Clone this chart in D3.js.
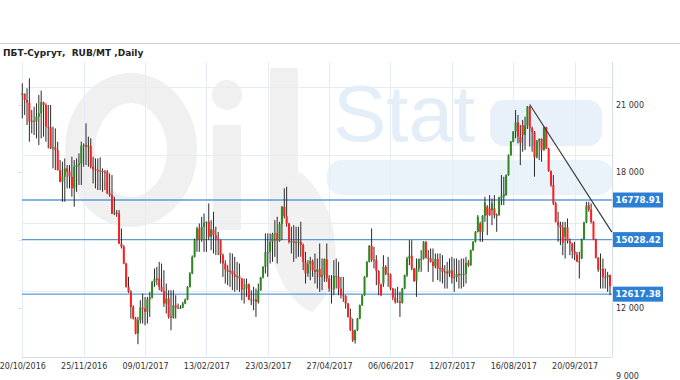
<!DOCTYPE html>
<html><head><meta charset="utf-8">
<script src="https://cdn.jsdelivr.net/npm/d3@7"></script>
<style>html,body{margin:0;padding:0;background:#fff;} svg{display:block;}</style>
</head><body>
<svg id="chart" width="680" height="380"></svg>
<script>
const title = "ПБТ-Сургут,  RUB/MT ,Daily";
const dateLabels = ["20/10/2016","25/11/2016","09/01/2017","13/02/2017","23/03/2017","27/04/2017","06/06/2017","12/07/2017","16/08/2017","20/09/2017"];
const labelEvery = 26;

const open = [
21421,21465,21199,21081,20241,20285,20241,20462,20610,21096,
20978,20020,19990,19061,19105,18987,18102,17586,17807,18176,
18028,17807,17291,18250,18323,18397,19164,19208,19135,19164,
18250,18132,18102,18073,18058,18014,18028,17070,16996,16185,
16214,16185,14857,14710,13972,12940,12718,12055,11538,10875,
11465,12025,11981,11834,12379,12468,13146,13294,13308,12940,
12763,12202,12423,11612,11583,12128,12025,12010,12025,12202,
12379,12940,13530,14267,15005,15521,15034,15595,15772,15816,
15152,15477,15226,15078,15005,14341,13972,13707,13603,13648,
13500,13382,13412,13308,12822,12866,13057,12379,12350,12379,
12276,12792,13353,13825,14474,14489,14931,15270,15300,14975,
15713,16480,16066,15742,14931,14960,14887,14916,14931,14784,
14046,13530,13943,14090,13677,
13603,13721,13382,13456,14164,13308,12866,12822,13426,13382,
12866,12571,12541,12202,11612,11022,10580,11022,11538,12128,
12571,13382,14046,14754,14149,14120,13633,13043,13087,13825,
13530,13500,12866,12468,12276,12291,12232,12866,13456,14193,
14311,13751,13205,13751,14164,14179,14931,14223,14193,14046,
13854,14179,13751,13780,13603,13618,13530,13677,13338,13367,
13515,13456,13500,13515,14002,13898,14562,14931,15373,15742,
15373,16081,16480,16406,16332,16406,16111,16111,16848,16922,
16996,17881,18766,19356,19798,20211,19577,20093,19651,20064,
20905,19946,19798,18663,19400,19474,18987,19990,19061,18058,
17438,16627,15816,15668,15565,15152,15565,14960,14857,14518,
14370,14061,14193,15049,15786,16553,16361,15816,15034,14223,
13706,13736,13382,13367,13456];

const high = [
21937,21494,21716,22158,20757,20905,21052,21421,21612,21126,
21052,20978,20978,20020,19946,19356,18545,18471,18618,18323,
18323,18692,18545,18618,18840,19356,19282,20167,19577,19503,
18692,18618,18618,18663,18176,18102,18102,17955,17881,16922,
16332,16332,15521,14783,14002,13382,12792,12128,11612,11612,
12350,12645,12497,12497,12718,13205,13751,13825,14046,13972,
13677,13087,12792,12792,12792,12571,12202,12128,12276,12423,
12969,13589,14326,15078,15595,15742,16037,16185,15830,16627,
15890,16258,15595,15373,15034,14415,14120,13898,14444,14415,
14267,14046,13972,13330,13308,13308,13087,12792,12940,12866,
13087,13382,13854,15300,15300,15300,15329,15890,16037,15816,
16509,17291,17365,15772,15595,15668,15595,15595,15816,14857,
14489,14120,14267,14149,14415,
14193,14857,14193,14193,14857,13456,13456,14120,14193,14046,
13382,13382,12571,12230,11981,11538,11052,11568,12158,12600,
13412,14075,14784,15521,14710,14341,13677,13087,14341,13898,
14267,13530,12896,12866,12940,12718,12896,13485,14267,15005,
15005,13780,14193,14193,14562,14960,14960,14562,14636,14636,
14415,14415,14415,14341,13898,14046,14193,14267,14193,14193,
14120,14193,14193,14267,14120,14592,14960,15403,16111,15816,
16111,16922,16553,16996,16848,16996,16185,16922,17881,17807,
17910,18795,19385,19828,20757,20536,20093,20315,20462,20934,
20934,20020,19828,19430,19503,19503,20020,20020,19090,18087,
17881,16701,16258,15816,15816,15816,15963,15078,14887,14931,
14489,14489,15078,15816,16701,16701,16627,15845,15078,14252,
14415,14193,13751,13603,13485];

const low = [
20388,20536,20093,19356,19724,19651,19503,19208,19503,19577,
19356,19061,19030,18176,18102,18080,17560,16701,16701,17291,
17291,16922,16480,17143,17438,17438,18250,18323,18250,18176,
17512,17291,17217,17217,17143,17217,17040,16922,16155,16111,
16037,14827,14636,13942,12910,12674,11538,11494,10845,10403,
11317,11317,11243,11317,11612,12423,12940,13013,12792,12718,
12055,11760,11538,11022,11538,11538,11966,11966,11996,12172,
12350,12910,13500,14238,14489,14489,14931,14489,14489,15005,
14562,14415,14341,14341,13972,13382,13087,13013,12940,12792,
12718,12792,12718,12350,12202,12497,12350,12128,11907,11612,
12202,12763,13308,13530,13382,13972,14046,14267,13972,14931,
15005,15963,15595,14857,14415,14046,14193,14267,14267,13677,
13087,13382,13235,13382,13087,
12866,12718,12792,13161,13161,12718,12202,12571,12866,12571,
12423,12276,11981,11583,10993,10506,10432,10993,11509,12099,
12541,13353,14016,14046,13751,13013,12571,12527,12940,13456,
12940,12792,12350,12202,12246,11612,12202,12836,13382,13898,
13677,13161,12497,13603,13603,14149,14193,13603,14016,13161,
13751,13235,13161,13087,12866,12866,13382,13087,12718,13161,
12866,12866,12940,13087,13825,13869,14532,14901,15344,14931,
14931,15816,15226,16081,15668,15963,15373,16081,16553,16553,
16966,17851,18736,19326,19503,19282,18323,18913,18987,19916,
19135,18913,17807,18618,18545,18471,18958,19031,18028,17365,
16553,15786,14931,14784,14341,14193,14857,14341,14193,14120,
14031,13308,14164,15019,15757,16258,15742,15005,14193,13603,
12866,12866,12866,12718,12571];

const close = [
21494,21199,21081,20241,20285,20241,20462,20610,21096,20978,
20020,19990,19061,19105,18987,18102,17586,17807,18176,18028,
17807,17291,18250,18323,18397,19164,19208,19135,19164,18250,
18132,18102,18073,18058,18014,18028,17070,16996,16185,16214,
16185,14857,14710,13972,12940,12718,12055,11538,10875,11465,
12025,11981,11834,12379,12468,13146,13294,13308,12940,12763,
12202,12423,11612,11583,12128,12025,12010,12025,12202,12379,
12940,13530,14267,15005,15521,15034,15595,15772,15816,15152,
15477,15226,15078,15005,14341,13972,13707,13603,13648,13500,
13382,13412,13308,12822,12866,13057,12379,12350,12379,12276,
12792,13353,13825,14474,14489,14931,15270,15300,14975,15713,
16480,16066,15742,14931,14960,14887,14916,14931,14784,14046,
13530,13943,14090,13677,13603,
13721,13382,13456,14164,13308,12866,12822,13426,13382,12866,
12571,12541,12202,11612,11022,10580,11022,11538,12128,12571,
13382,14046,14754,14149,14120,13633,13043,12571,13825,13530,
13500,12866,12468,12276,12291,12232,12866,13456,14193,14311,
13751,13205,13751,14164,14179,14931,14223,14193,14046,13854,
14179,13751,13780,13603,13618,13530,13677,13338,13367,13515,
13456,13500,13515,14002,13898,14562,14931,15373,16037,15373,
16081,16671,16111,16111,16627,16111,16066,16893,16966,17040,
17881,18766,19356,19798,20211,19577,19312,19651,20064,20905,
19946,19798,18663,19400,19474,18987,19990,19061,18058,17438,
16627,15816,15668,15565,14887,15565,14960,14857,14518,14370,
14061,14046,15049,15786,16524,16361,15816,15034,14223,13706,
13736,13382,13367,13456,12969];

const levels = [16778.91, 15028.42, 12617.38];
const yTickMarks = [21000, 18000, 15000, 12000];
const yTickLabels = [21000, 18000, 12000, 9000];
const gridValues = [21770, 18770, 15770, 12770];
const trendIndex = [215, 249.8];
const trendValue = [21000, 15360];

const svg = d3.select("#chart");
const x = d3.scaleLinear().domain([0, open.length - 1]).range([22.3, 610]);
const y = d3.scaleLinear().domain([9000, 21000]).range([376, 104.5]);
const plotLeft = 22, plotRight = 612, plotTop = 62, plotBottom = 357;

// top rule and title
svg.append("line").attr("x1", 0).attr("x2", 680).attr("y1", 43.5).attr("y2", 43.5)
  .attr("stroke", "#cfcfcf").attr("stroke-width", 1);
svg.append("text").attr("x", 3).attr("y", 56).text(title)
  .style("white-space", "pre").attr("font-family", "DejaVu Sans").attr("font-weight", "bold")
  .attr("font-size", 9).attr("fill", "#222");

// watermark
const wm = svg.append("g");
wm.append("ellipse").attr("cx", 131).attr("cy", 150).attr("rx", 51).attr("ry", 62)
  .attr("fill", "none").attr("stroke", "#f0f0f0").attr("stroke-width", 30);
wm.append("rect").attr("x", 213).attr("y", 125).attr("width", 28).attr("height", 105).attr("fill", "#f0f0f0");
wm.append("circle").attr("cx", 227).attr("cy", 95).attr("r", 15).attr("fill", "#f0f0f0");
wm.append("rect").attr("x", 270).attr("y", 68).attr("width", 28).attr("height", 165).attr("fill", "#f0f0f0");
wm.append("path").attr("d", "M300,172 C342,205 348,282 312,312 C282,300 262,250 272,200 Z").attr("fill", "#f1f1f1");
wm.append("text").attr("x", 333).attr("y", 141).text("Stat")
  .attr("font-family", "Liberation Sans").attr("font-size", 80).attr("fill", "#e4eef8");
wm.append("rect").attr("x", 490).attr("y", 100).attr("width", 112).attr("height", 46).attr("rx", 14)
  .attr("fill", "#e8f0f9");
wm.append("rect").attr("x", 327).attr("y", 160).attr("width", 286).attr("height", 35).attr("rx", 15)
  .attr("fill", "#eaf2fa");

// grid
const tickIdx = dateLabels.map((d, i) => i * labelEvery);
svg.append("g").selectAll("line").data(gridValues).join("line")
  .attr("x1", plotLeft).attr("x2", plotRight)
  .attr("y1", d => Math.round(y(d)) + 0.5).attr("y2", d => Math.round(y(d)) + 0.5)
  .attr("stroke", "#e4edf6");
svg.append("g").selectAll("line").data(tickIdx).join("line")
  .attr("x1", d => Math.round(x(d)) + 0.5).attr("x2", d => Math.round(x(d)) + 0.5)
  .attr("y1", plotTop).attr("y2", plotBottom)
  .attr("stroke", "#e4edf6");
svg.append("g").selectAll("line").data(yTickMarks).join("line")
  .attr("x1", 18).attr("x2", 22)
  .attr("y1", d => Math.round(y(d)) + 0.5).attr("y2", d => Math.round(y(d)) + 0.5)
  .attr("stroke", "#d8e2ec");
// frame
svg.append("line").attr("x1", plotRight + 0.5).attr("x2", plotRight + 0.5).attr("y1", plotTop).attr("y2", plotBottom)
  .attr("stroke", "#d3e0ec");
svg.append("line").attr("x1", plotLeft).attr("x2", plotRight).attr("y1", plotBottom + 0.5).attr("y2", plotBottom + 0.5)
  .attr("stroke", "#d3e0ec");

// axes
const xAxis = d3.axisBottom(x).tickValues(tickIdx).tickFormat((d, i) => dateLabels[i]).tickSize(0).tickPadding(6);
const gx = svg.append("g").attr("transform", `translate(0,${plotBottom})`).call(xAxis);
gx.select(".domain").remove();
gx.selectAll("text").attr("font-family", "DejaVu Sans").attr("font-size", 8).attr("fill", "#333");

const yAxis = d3.axisRight(y).tickValues(yTickLabels)
  .tickFormat(d => d3.format(",")(d).replace(/,/g, " ")).tickSize(0).tickPadding(4);
const gy = svg.append("g").attr("transform", `translate(${plotRight},0)`).call(yAxis);
gy.select(".domain").remove();
gy.selectAll("text").attr("font-family", "DejaVu Sans").attr("font-size", 8).attr("fill", "#333");

// level lines
svg.append("g").selectAll("line").data(levels).join("line")
  .attr("x1", plotLeft).attr("x2", plotRight)
  .attr("y1", d => y(d)).attr("y2", d => y(d))
  .attr("stroke", "#5d9bd8").attr("stroke-width", 1.4);

// candles
const idx = d3.range(open.length);
const cg = svg.append("g");
cg.selectAll("line").data(idx).join("line")
  .attr("x1", i => x(i)).attr("x2", i => x(i))
  .attr("y1", i => y(high[i])).attr("y2", i => y(low[i]))
  .attr("stroke", "#2a2a2a").attr("stroke-width", 1);
cg.selectAll("rect").data(idx).join("rect")
  .attr("x", i => x(i) - 1).attr("width", 2)
  .attr("y", i => y(Math.max(open[i], close[i])))
  .attr("height", i => Math.max(1, Math.abs(y(open[i]) - y(close[i]))))
  .attr("fill", i => close[i] >= open[i] ? "#2e8a1e" : "#ff1f1f");

// trend line
svg.append("line")
  .attr("x1", x(trendIndex[0])).attr("y1", y(trendValue[0]))
  .attr("x2", x(trendIndex[1])).attr("y2", y(trendValue[1]))
  .attr("stroke", "#333").attr("stroke-width", 1.1);

// level labels
const lg = svg.append("g").selectAll("g").data(levels).join("g")
  .attr("transform", d => `translate(613,${y(d)})`);
lg.append("rect").attr("x", 0).attr("y", -7.5).attr("width", 50).attr("height", 15).attr("fill", "#2d7fd6");
lg.append("text").attr("x", 2.5).attr("y", 3.2).text(d => d.toFixed(2))
  .attr("font-family", "DejaVu Sans").attr("font-weight", "bold").attr("font-size", 8.6).attr("fill", "#fff");
</script>
</body></html>
